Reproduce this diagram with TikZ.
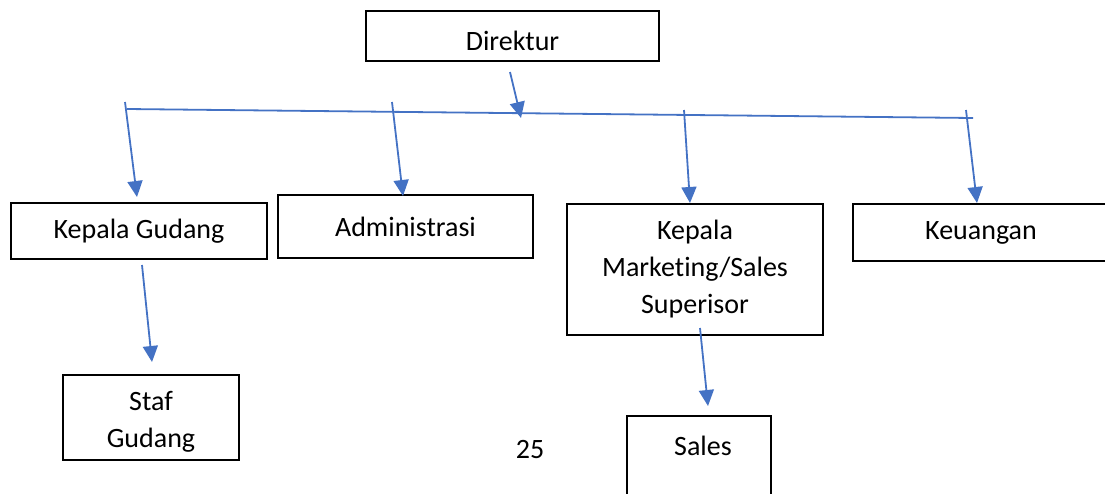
\documentclass[tikz,border=0pt]{standalone}
\usepackage{fontspec}
\setmainfont[Ligatures=NoCommon]{Carlito}
\usetikzlibrary{arrows.meta}
\definecolor{lineblue}{HTML}{4472C4}
\begin{document}
\begin{tikzpicture}[x=1pt,y=-1pt,
  box/.style={draw=black, line width=1.7pt, inner sep=0pt, align=center,
    font=\fontsize{28}{37}\selectfont},
  lbl/.style={inner sep=0pt, align=center, font=\fontsize{28}{37}\selectfont},
  conn/.style={draw=lineblue, line width=1.8pt},
  arr/.style={conn, -{Triangle[width=15pt,length=16pt]}}]
\useasboundingbox (0,0) rectangle (1105,493);
% boxes
\node[box, minimum width=293pt, minimum height=50pt] (dir) at (512.5,36) {};
\node[lbl] (dirt) at (512.5,41) {Direktur};
\node[box, minimum width=256pt, minimum height=56pt] (kg) at (139,231) {Kepala Gudang};
\node[box, minimum width=255pt, minimum height=63pt] (adm) at (405.5,226.5) {Administrasi};
\node[box, minimum width=256pt, minimum height=131pt] (kms) at (695,269.5) {Kepala\\Market\kern0pt ing/Sales\\Superisor};
\node[box, minimum width=256pt, minimum height=57pt] (keu) at (981,232.5) {Keuangan};
\node[box, minimum width=176pt, minimum height=85pt] (sg) at (151,417.5) {};
\node[lbl] (sgt) at (151,422) {Staf\\Gudang};
\node[box, minimum width=144pt, minimum height=120pt] (sal) at (699,476) {};
\node[lbl] (salt) at (703,446) {Sales};
\node[lbl] (pg) at (530,450) {25};
% connector points
\coordinate (dtop) at (510,72);
\coordinate (dtip) at (521,118);
\coordinate (hl) at (127,109);
\coordinate (hr) at (973,118);
\coordinate (t1) at (125,102);
\coordinate (p1) at (137,197);
\coordinate (t2) at (392,102);
\coordinate (p2) at (403,196);
\coordinate (t3) at (684,110);
\coordinate (p3) at (690,203);
\coordinate (t4) at (966,110);
\coordinate (p4) at (977,203);
\coordinate (t5) at (142,265);
\coordinate (p5) at (152,362);
\coordinate (t6) at (700,328);
\coordinate (p6) at (708,406);
% connectors
\draw[conn] (hl) -- (hr);
\draw[arr] (dtop) -- (dtip);
\draw[arr] (t1) -- (p1);
\draw[arr] (t2) -- (p2);
\draw[arr] (t3) -- (p3);
\draw[arr] (t4) -- (p4);
\draw[arr] (t5) -- (p5);
\draw[arr] (t6) -- (p6);
\end{tikzpicture}
\end{document}
